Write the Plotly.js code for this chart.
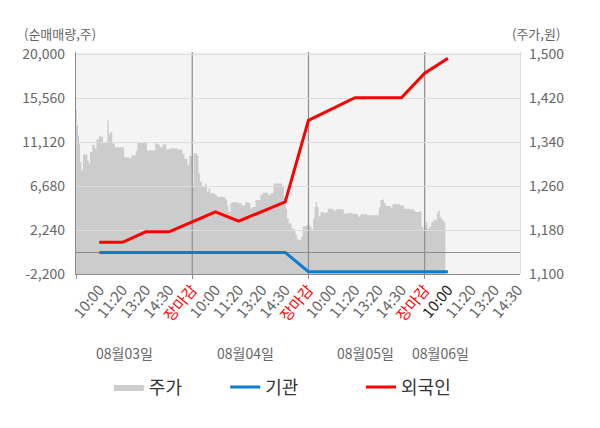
<!DOCTYPE html>
<html>
<head>
<meta charset="utf-8">
<script src="https://cdn.plot.ly/plotly-3.0.1.min.js"></script>
<style>
  html, body { margin: 0; padding: 0; background: #fff; }
  #chart { width: 600px; height: 428px; }
</style>
</head>
<body>
<div id="chart"></div>
<script>
// x runs in slots: every trading day has 5 slots (10:00, 11:20, 13:20, 14:30, 장마감)
var tickPos = [1, 2, 3, 4, 5, 6, 7, 8, 9, 10, 11, 12, 13, 14, 15, 16, 17, 18, 19];
var tickLabels = ["10:00", "11:20", "13:20", "14:30", "장마감",
                  "10:00", "11:20", "13:20", "14:30", "장마감",
                  "10:00", "11:20", "13:20", "14:30", "장마감",
                  "10:00", "11:20", "13:20", "14:30"];
var dayBreaks = [0, 5, 10, 15];
var dayNames = ["08월03일", "08월04일", "08월05일", "08월06일"];
var dayLabelPos = [2.1, 7.3, 12.45, 15.7];

// net buying (주), one point per slot
var flowX = [1, 2, 3, 4, 5, 6, 7, 8, 9, 10, 11, 12, 13, 14, 15, 16];
var institution = [-20, -20, -20, -20, -20, -20, -20, -20, -20, -1970, -1970, -1970, -1970, -1970, -1970, -1970];
var foreign = [1000, 1000, 2070, 2070, 3080, 4090, 3150, 4120, 5100, 13340, 14480, 15630, 15630, 15630, 18110, 19630];

// stock price (원)
var priceX = [0, 0.03, 0.09, 0.13, 0.17, 0.23, 0.30, 0.39, 0.49, 0.55, 0.60, 0.70, 0.81, 0.88, 0.99,
  1.06, 1.16, 1.28, 1.35, 1.41, 1.50, 1.56, 1.67, 2.00, 2.07, 2.28, 2.38, 2.50, 2.57, 2.64,
  3.00, 3.05, 3.32, 3.41, 3.50, 3.61, 3.72, 3.82, 3.88, 4.01, 4.22, 4.37, 4.54, 4.58, 4.66,
  4.80, 4.87, 5.00, 5.06, 5.20, 5.27, 5.34, 5.42, 5.49, 5.56, 5.63, 5.70, 5.78, 5.92, 5.99,
  6.06, 6.35, 6.45, 6.50, 6.56, 6.64, 6.71, 6.85, 7.00, 7.14, 7.28, 7.43, 7.50, 7.57, 7.72,
  7.86, 7.93, 8.03, 8.15, 8.26, 8.36, 8.46, 8.50, 8.79, 8.87, 8.94, 9.01, 9.08, 9.15, 9.27,
  9.37, 9.44, 9.51, 9.61, 9.69, 9.75, 9.94, 10.06, 10.13, 10.20, 10.26, 10.31, 10.37, 10.44,
  10.52, 10.66, 10.78, 10.83, 11.02, 11.09, 11.16, 11.45, 11.52, 11.67, 11.88, 12.03, 12.13,
  12.24, 12.53, 12.96, 13.03, 13.10, 13.18, 13.25, 13.32, 13.53, 13.61, 13.75, 13.94, 14.11,
  14.32, 14.54, 14.61, 14.80, 14.86, 14.94, 15.00, 15.06, 15.12, 15.19, 15.29, 15.38, 15.44,
  15.52, 15.57, 15.65, 15.72, 15.81, 15.89];
var price = [1401, 1371, 1353, 1338, 1304, 1289, 1318, 1318, 1307, 1301, 1322, 1335, 1329, 1345, 1351,
  1350, 1339, 1339, 1380, 1356, 1359, 1338, 1331, 1331, 1313, 1311, 1316, 1316, 1325, 1339,
  1339, 1325, 1325, 1338, 1336, 1331, 1336, 1336, 1327, 1329, 1329, 1327, 1327, 1319, 1310,
  1298, 1315, 1262, 1320, 1316, 1283, 1268, 1259, 1259, 1265, 1250, 1256, 1247, 1247, 1244,
  1241, 1239, 1235, 1225, 1213, 1229, 1231, 1231, 1229, 1225, 1231, 1229, 1219, 1222, 1235,
  1235, 1244, 1248, 1248, 1244, 1247, 1247, 1265, 1265, 1259, 1238, 1219, 1201, 1192, 1183,
  1181, 1171, 1163, 1162, 1168, 1187, 1189, 1186, 1181, 1201, 1222, 1231, 1222, 1205,
  1213, 1211, 1213, 1219, 1219, 1215, 1218, 1218, 1210, 1211, 1210, 1209, 1205,
  1209, 1207, 1207, 1222, 1235, 1236, 1229, 1224, 1221, 1227, 1227, 1225, 1219,
  1218, 1215, 1213, 1215, 1186, 1180, 1189, 1195, 1182, 1186, 1195, 1199, 1198,
  1210, 1215, 1204, 1199, 1195, 1195];

var flowTicks = [-2200, 2240, 6680, 11120, 15560, 20000];
var priceTicks = [1100, 1180, 1260, 1340, 1420, 1500];

var font = "'Noto Sans CJK KR', 'Noto Sans', sans-serif";
var xRange = [0, 19.1];
var flowRange = [-2200, 20260];
var priceRange = [1100, 1504.7];

function fmt(v) { return v.toLocaleString("en-US"); }

var ticktext = tickLabels.map(function (t, i) {
  if (t === "장마감") return '<span style="color:#ff0000">' + t + '</span>';
  if (i === 15) return '<span style="color:#222">' + t + '</span>';
  return t;
});

// price area sits in the lower subplot (x/y), the flow lines in the upper one (x2/y2),
// so the grid, zero line and day separators end up between the area and the lines
var traces = [
  {
    x: priceX, y: price, name: "주가", xaxis: "x", yaxis: "y", legend: "legend",
    type: "scatter", mode: "lines", line: { width: 0, shape: "hv" },
    fill: "tozeroy", fillcolor: "#cccccc"
  },
  {
    x: flowX, y: institution, name: "기관", xaxis: "x2", yaxis: "y2", legend: "legend2",
    type: "scatter", mode: "lines", line: { color: "#0a7fd0", width: 3 }
  },
  {
    x: flowX, y: foreign, name: "외국인", xaxis: "x2", yaxis: "y2", legend: "legend3",
    type: "scatter", mode: "lines", line: { color: "#ff0000", width: 3 }
  }
];

// plot background drawn once under both subplots
var shapes = [{ type: "rect", xref: "paper", yref: "paper", x0: 0, x1: 1, y0: 0, y1: 1,
  fillcolor: "#f4f4f4", line: { width: 0 }, layer: "below" }];
dayBreaks.filter(function (d) { return d > 0; }).forEach(function (d) {
  shapes.push({ type: "line", xref: "x2", yref: "y2", x0: d, x1: d, y0: flowRange[0], y1: flowRange[1],
    line: { color: "#8c8c8c", width: 1.2 }, layer: "below" });
});

var annotations = dayNames.map(function (n, i) {
  return { text: n, x: dayLabelPos[i], xref: "x2", y: -0.356, yref: "paper", yanchor: "middle",
    showarrow: false, font: { family: font, size: 14, color: "#666" } };
});
annotations.push({ text: "(순매매량,주)", x: -0.122, xref: "paper", xanchor: "left",
  y: 1.084, yref: "paper", yanchor: "middle", showarrow: false,
  font: { family: font, size: 13, color: "#666" } });
annotations.push({ text: "(주가,원)", x: 0.977, xref: "paper", xanchor: "left",
  y: 1.084, yref: "paper", yanchor: "middle", showarrow: false,
  font: { family: font, size: 13, color: "#666" } });

function legendAt(x) {
  return { orientation: "h", x: x, xanchor: "left", y: -0.51, yanchor: "middle",
    bgcolor: "rgba(0,0,0,0)", font: { family: font, size: 18, color: "#333" } };
}

var layout = {
  width: 600, height: 428,
  margin: { l: 76, r: 80, t: 52, b: 154, pad: 0 },
  paper_bgcolor: "#ffffff",
  plot_bgcolor: "rgba(0,0,0,0)",
  font: { family: font, color: "#666" },
  showlegend: true,
  legend: legendAt(0.074),
  legend2: legendAt(0.336),
  legend3: legendAt(0.642),
  xaxis: {
    domain: [0, 1], anchor: "y", range: xRange, tickmode: "array", tickvals: dayBreaks,
    showticklabels: false, ticks: "outside", ticklen: 4, tickcolor: "#8c8c8c", tickwidth: 1,
    showgrid: false, zeroline: false, showline: false
  },
  yaxis: {
    domain: [0, 1], anchor: "x", side: "right", range: priceRange,
    tickmode: "array", tickvals: priceTicks, ticktext: priceTicks.map(fmt),
    tickfont: { size: 14, color: "#666" }, ticklabelstandoff: 5,
    showgrid: false, zeroline: false,
    showline: true, linecolor: "#dcdcdc", linewidth: 1.2
  },
  xaxis2: {
    domain: [0, 1], anchor: "y2", range: xRange, tickmode: "array", tickvals: tickPos,
    ticktext: ticktext, tickangle: -50, tickfont: { size: 15, color: "#666" },
    showgrid: false, zeroline: false, showline: true, linecolor: "#8c8c8c", linewidth: 1.2,
    ticks: ""
  },
  yaxis2: {
    domain: [0, 1], anchor: "x2", side: "left", range: flowRange,
    tickmode: "array", tickvals: flowTicks, ticktext: flowTicks.map(fmt),
    tickfont: { size: 14, color: "#666" }, ticklabelstandoff: 7,
    showgrid: true, gridcolor: "#dcdcdc", gridwidth: 1,
    zeroline: true, zerolinecolor: "#8c8c8c", zerolinewidth: 1.2,
    showline: true, linecolor: "#8c8c8c", linewidth: 1.2
  },
  shapes: shapes,
  annotations: annotations
};

Plotly.newPlot("chart", traces, layout, { displayModeBar: false, staticPlot: true });
</script>
</body>
</html>
